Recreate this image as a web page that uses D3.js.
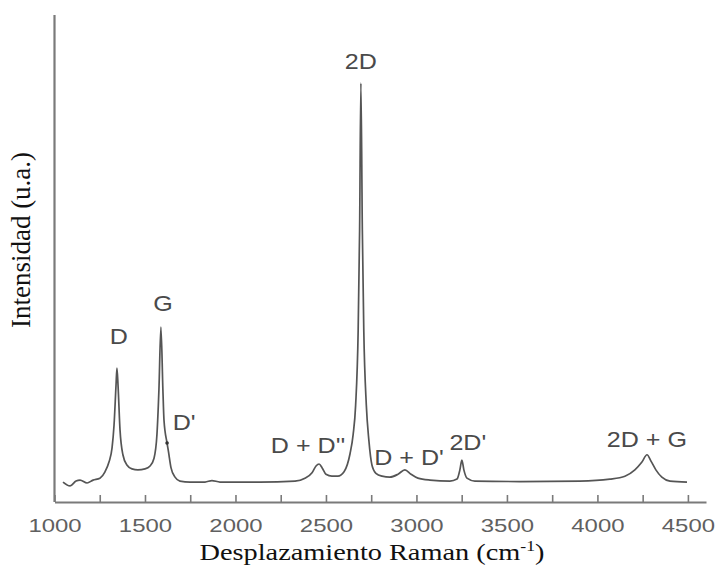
<!DOCTYPE html>
<html>
<head>
<meta charset="utf-8">
<script src="https://cdn.jsdelivr.net/npm/d3@7"></script>
<style>
  html, body { margin: 0; padding: 0; background: #fff; }
  svg { display: block; }
</style>
</head>
<body>
<svg id="chart" width="718" height="573"></svg>
<script>
// Raman shift (cm-1) and intensity (a.u.) of the measured spectrum
const shift = [1047, 1086, 1119, 1141, 1180, 1213, 1251, 1279, 1301, 1318, 1329, 1340, 1345, 1351, 1362, 1378, 1400, 1428, 1461, 1500, 1528, 1550, 1566, 1577, 1588, 1599, 1605, 1622, 1630, 1644, 1666, 1693, 1749, 1832, 1870, 1914, 2135, 2329, 2384, 2423, 2445, 2462, 2479, 2500, 2533, 2566, 2600, 2633, 2650, 2664, 2678, 2686, 2693, 2701, 2709, 2723, 2737, 2754, 2776, 2810, 2853, 2898, 2936, 2970, 3008, 3075, 3185, 3224, 3240, 3251, 3262, 3279, 3323, 3572, 3903, 4069, 4152, 4207, 4246, 4274, 4296, 4323, 4356, 4401, 4495];
const intensity = [4.1, 3.3, 4.3, 4.5, 3.9, 4.5, 4.9, 6.2, 8.2, 11.1, 15.8, 24.0, 27.5, 24.0, 14.8, 9.7, 7.6, 6.8, 6.6, 6.8, 7.4, 9.0, 13.8, 23.0, 35.9, 23.0, 16.8, 12.1, 10.3, 7.0, 5.1, 4.3, 4.1, 4.1, 4.4, 4.1, 4.1, 4.3, 4.9, 6.0, 7.4, 7.8, 7.0, 5.7, 5.3, 5.3, 6.2, 9.9, 13.8, 19.9, 35.3, 55.9, 86.0, 55.9, 35.3, 19.9, 12.7, 7.6, 5.9, 5.3, 5.1, 5.7, 6.6, 5.7, 4.9, 4.5, 4.3, 4.7, 6.6, 8.6, 6.6, 4.9, 4.3, 4.2, 4.3, 4.7, 5.3, 6.6, 8.2, 9.7, 8.4, 6.6, 5.1, 4.3, 4.1];

// Band assignments: label, centre of the label (cm-1), height (a.u.) of the label baseline
const bandNames = ["D", "G", "D'", "D + D''", "2D", "D + D'", "2D'", "2D + G"];
const bandShift = [1356, 1600, 1716, 2401, 2693, 2959, 3284, 4273];
const bandLabelY = [32.5, 39.2, 14.8, 10.1, 88.9, 7.6, 10.7, 11.3];

const xTicks = [1000, 1500, 2000, 2500, 3000, 3500, 4000, 4500];
const xMinorTicks = [1250, 1750, 2250, 2750, 3250, 3750, 4250];

const svg = d3.select("#chart");

const x = d3.scaleLinear().domain([1000, 4600]).range([54.5, 706]);
const y = d3.scaleLinear().domain([0, 100]).range([502, 15]);

const axisColor = "#7a7a7a";
const sans = "'Liberation Sans', Arial, sans-serif";
const serif = "'Liberation Serif', 'Times New Roman', serif";

// x axis: ticks point inward, labels below
const xAxis = svg.append("g")
  .attr("transform", `translate(0,${y(0)})`)
  .call(d3.axisBottom(x).tickValues(xTicks).tickFormat(d3.format("d"))
    .tickSize(-7).tickSizeOuter(0).tickPadding(17));
xAxis.select(".domain").attr("stroke", axisColor).attr("stroke-width", 2.2);
xAxis.selectAll(".tick line").attr("stroke", axisColor).attr("stroke-width", 1.6);
xAxis.selectAll(".tick text")
  .attr("fill", "#606060")
  .attr("transform", "scale(1.26,1)")
  .style("font-family", sans)
  .style("font-size", "19px");

const xMinor = svg.append("g")
  .attr("transform", `translate(0,${y(0)})`)
  .call(d3.axisBottom(x).tickValues(xMinorTicks).tickFormat("").tickSize(-7).tickSizeOuter(0));
xMinor.select(".domain").remove();
xMinor.selectAll(".tick line").attr("stroke", axisColor).attr("stroke-width", 1.6);

// y axis: plain line without ticks
svg.append("line")
  .attr("x1", x(1000)).attr("x2", x(1000))
  .attr("y1", y(100)).attr("y2", y(0))
  .attr("stroke", axisColor).attr("stroke-width", 2.2);

// spectrum
const pts = shift.map((s, i) => [s, intensity[i]]);
svg.append("path")
  .datum(pts)
  .attr("fill", "none")
  .attr("stroke", "#555")
  .attr("stroke-width", 1.7)
  .attr("stroke-linejoin", "round")
  .attr("d", d3.line().x(d => x(d[0])).y(d => y(d[1])).curve(d3.curveMonotoneX));

// D' shoulder marker
svg.append("circle")
  .attr("cx", x(1622)).attr("cy", y(12.1)).attr("r", 1.8).attr("fill", "#333");

// band labels
svg.append("g").selectAll("text")
  .data(bandNames)
  .join("text")
  .attr("transform", (d, i) => `translate(${x(bandShift[i])},${y(bandLabelY[i])}) scale(1.14,1)`)
  .attr("text-anchor", "middle")
  .attr("fill", "#4a4a4a")
  .style("font-family", sans)
  .style("font-size", "22px")
  .text(d => d);

// axis titles
const xTitle = svg.append("text")
  .attr("transform", "translate(372,560) scale(1.18,1)")
  .attr("text-anchor", "middle")
  .attr("fill", "#111")
  .style("font-family", serif)
  .style("font-size", "24px");
xTitle.append("tspan").text("Desplazamiento Raman (cm");
xTitle.append("tspan").attr("dy", -9).style("font-size", "15px").text("-1");
xTitle.append("tspan").attr("dy", 9).text(")");

svg.append("text")
  .attr("transform", "translate(30,240) rotate(-90)")
  .attr("text-anchor", "middle")
  .attr("fill", "#111")
  .style("font-family", serif)
  .style("font-size", "27px")
  .text("Intensidad (u.a.)");
</script>
</body>
</html>
